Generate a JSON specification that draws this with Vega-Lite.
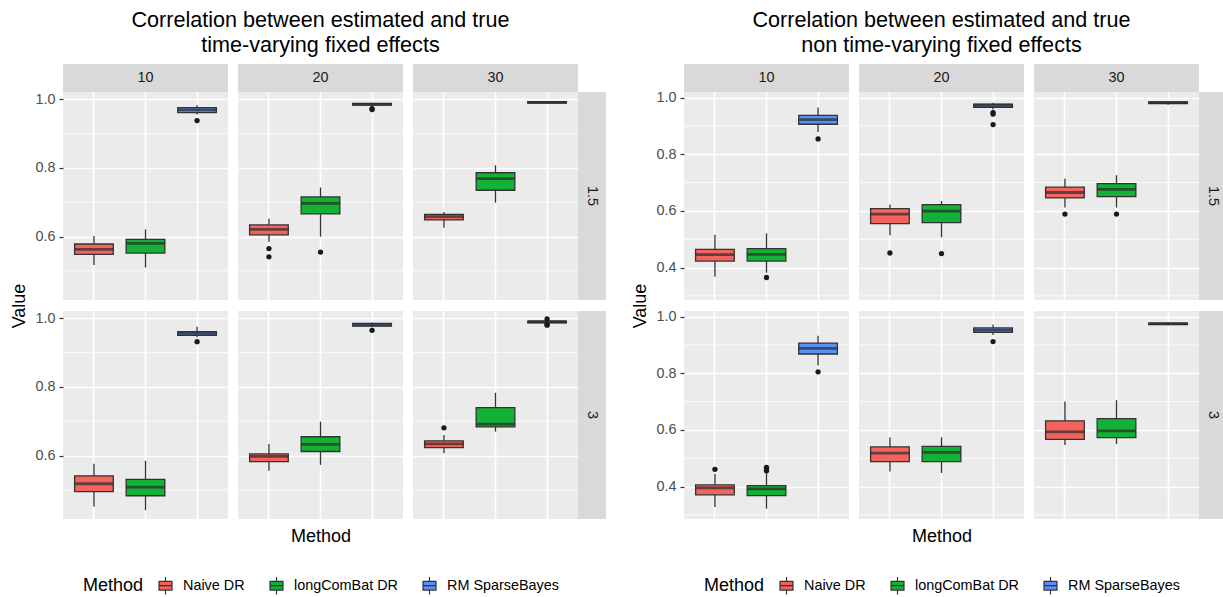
{
"$schema":"https://vega.github.io/schema/vega-lite/v6.json",
"padding":{"left":10,"top":10,"right":0,"bottom":0},
"autosize":{"type":"pad"},
"background":"white",
"columns":13,
"spacing":0,
"bounds":"flush",
"align":"each",
"resolve":{"legend":{"color":"independent"}},
"datasets":{
"minL":[{"g":0.5},{"g":0.7},{"g":0.9}],
"minR":[{"g":0.3},{"g":0.5},{"g":0.7},{"g":0.9}],
"box":[
{"c":"L","n":10,"s":1.5,"m":"Naive DR","lo":0.517,"q1":0.5485,"med":0.563,"q3":0.5785,"hi":0.602},
{"c":"L","n":10,"s":1.5,"m":"longComBat DR","lo":0.51,"q1":0.552,"med":0.58,"q3":0.592,"hi":0.621},
{"c":"L","n":10,"s":1.5,"m":"RM SparseBayes","lo":0.956,"q1":0.961,"med":0.969,"q3":0.976,"hi":0.983},
{"c":"L","n":20,"s":1.5,"m":"Naive DR","lo":0.585,"q1":0.605,"med":0.621,"q3":0.634,"hi":0.652},
{"c":"L","n":20,"s":1.5,"m":"longComBat DR","lo":0.6,"q1":0.666,"med":0.697,"q3":0.7155,"hi":0.743},
{"c":"L","n":20,"s":1.5,"m":"RM SparseBayes","lo":0.98,"q1":0.983,"med":0.985,"q3":0.988,"hi":0.99},
{"c":"L","n":30,"s":1.5,"m":"Naive DR","lo":0.626,"q1":0.6485,"med":0.658,"q3":0.665,"hi":0.672},
{"c":"L","n":30,"s":1.5,"m":"longComBat DR","lo":0.699,"q1":0.735,"med":0.769,"q3":0.786,"hi":0.808},
{"c":"L","n":30,"s":1.5,"m":"RM SparseBayes","lo":0.987,"q1":0.989,"med":0.991,"q3":0.993,"hi":0.995},
{"c":"L","n":10,"s":3,"m":"Naive DR","lo":0.4515,"q1":0.495,"med":0.518,"q3":0.541,"hi":0.576},
{"c":"L","n":10,"s":3,"m":"longComBat DR","lo":0.441,"q1":0.483,"med":0.508,"q3":0.531,"hi":0.585},
{"c":"L","n":10,"s":3,"m":"RM SparseBayes","lo":0.945,"q1":0.9505,"med":0.956,"q3":0.961,"hi":0.9755},
{"c":"L","n":20,"s":3,"m":"Naive DR","lo":0.556,"q1":0.5825,"med":0.598,"q3":0.605,"hi":0.634},
{"c":"L","n":20,"s":3,"m":"longComBat DR","lo":0.573,"q1":0.612,"med":0.633,"q3":0.655,"hi":0.699},
{"c":"L","n":20,"s":3,"m":"RM SparseBayes","lo":0.974,"q1":0.977,"med":0.981,"q3":0.9855,"hi":0.988},
{"c":"L","n":30,"s":3,"m":"Naive DR","lo":0.607,"q1":0.623,"med":0.634,"q3":0.643,"hi":0.66},
{"c":"L","n":30,"s":3,"m":"longComBat DR","lo":0.67,"q1":0.6835,"med":0.692,"q3":0.74,"hi":0.783},
{"c":"L","n":30,"s":3,"m":"RM SparseBayes","lo":0.984,"q1":0.987,"med":0.99,"q3":0.992,"hi":0.995},
{"c":"R","n":10,"s":1.5,"m":"Naive DR","lo":0.368,"q1":0.423,"med":0.446,"q3":0.4645,"hi":0.516},
{"c":"R","n":10,"s":1.5,"m":"longComBat DR","lo":0.382,"q1":0.423,"med":0.447,"q3":0.467,"hi":0.521},
{"c":"R","n":10,"s":1.5,"m":"RM SparseBayes","lo":0.879,"q1":0.906,"med":0.922,"q3":0.9375,"hi":0.965},
{"c":"R","n":20,"s":1.5,"m":"Naive DR","lo":0.514,"q1":0.555,"med":0.589,"q3":0.608,"hi":0.623},
{"c":"R","n":20,"s":1.5,"m":"longComBat DR","lo":0.507,"q1":0.559,"med":0.599,"q3":0.622,"hi":0.635},
{"c":"R","n":20,"s":1.5,"m":"RM SparseBayes","lo":0.958,"q1":0.966,"med":0.973,"q3":0.977,"hi":0.982},
{"c":"R","n":30,"s":1.5,"m":"Naive DR","lo":0.612,"q1":0.646,"med":0.665,"q3":0.684,"hi":0.714},
{"c":"R","n":30,"s":1.5,"m":"longComBat DR","lo":0.612,"q1":0.6505,"med":0.676,"q3":0.6965,"hi":0.726},
{"c":"R","n":30,"s":1.5,"m":"RM SparseBayes","lo":0.975,"q1":0.979,"med":0.982,"q3":0.985,"hi":0.988},
{"c":"R","n":10,"s":3,"m":"Naive DR","lo":0.328,"q1":0.371,"med":0.3955,"q3":0.406,"hi":0.4445},
{"c":"R","n":10,"s":3,"m":"longComBat DR","lo":0.322,"q1":0.368,"med":0.392,"q3":0.4035,"hi":0.45},
{"c":"R","n":10,"s":3,"m":"RM SparseBayes","lo":0.827,"q1":0.868,"med":0.888,"q3":0.9067,"hi":0.932},
{"c":"R","n":20,"s":3,"m":"Naive DR","lo":0.453,"q1":0.488,"med":0.518,"q3":0.54,"hi":0.573},
{"c":"R","n":20,"s":3,"m":"longComBat DR","lo":0.448,"q1":0.488,"med":0.521,"q3":0.542,"hi":0.574},
{"c":"R","n":20,"s":3,"m":"RM SparseBayes","lo":0.935,"q1":0.944,"med":0.952,"q3":0.96,"hi":0.972},
{"c":"R","n":30,"s":3,"m":"Naive DR","lo":0.547,"q1":0.567,"med":0.593,"q3":0.632,"hi":0.7},
{"c":"R","n":30,"s":3,"m":"longComBat DR","lo":0.55,"q1":0.573,"med":0.5965,"q3":0.64,"hi":0.705},
{"c":"R","n":30,"s":3,"m":"RM SparseBayes","lo":0.969,"q1":0.972,"med":0.975,"q3":0.977,"hi":0.98}
],
"out":[
{"c":"L","n":10,"s":1.5,"m":"RM SparseBayes","v":0.938},
{"c":"L","n":20,"s":1.5,"m":"Naive DR","v":0.565},
{"c":"L","n":20,"s":1.5,"m":"Naive DR","v":0.541},
{"c":"L","n":20,"s":1.5,"m":"longComBat DR","v":0.555},
{"c":"L","n":20,"s":1.5,"m":"RM SparseBayes","v":0.973},
{"c":"L","n":20,"s":1.5,"m":"RM SparseBayes","v":0.97},
{"c":"L","n":10,"s":3,"m":"RM SparseBayes","v":0.932},
{"c":"L","n":20,"s":3,"m":"RM SparseBayes","v":0.965},
{"c":"L","n":30,"s":3,"m":"Naive DR","v":0.681},
{"c":"L","n":30,"s":3,"m":"RM SparseBayes","v":0.98},
{"c":"L","n":30,"s":3,"m":"RM SparseBayes","v":0.982},
{"c":"L","n":30,"s":3,"m":"RM SparseBayes","v":0.998},
{"c":"R","n":10,"s":1.5,"m":"longComBat DR","v":0.365},
{"c":"R","n":10,"s":1.5,"m":"RM SparseBayes","v":0.854},
{"c":"R","n":20,"s":1.5,"m":"Naive DR","v":0.4515},
{"c":"R","n":20,"s":1.5,"m":"longComBat DR","v":0.449},
{"c":"R","n":20,"s":1.5,"m":"RM SparseBayes","v":0.947},
{"c":"R","n":20,"s":1.5,"m":"RM SparseBayes","v":0.942},
{"c":"R","n":20,"s":1.5,"m":"RM SparseBayes","v":0.905},
{"c":"R","n":30,"s":1.5,"m":"Naive DR","v":0.589},
{"c":"R","n":30,"s":1.5,"m":"longComBat DR","v":0.589},
{"c":"R","n":10,"s":3,"m":"Naive DR","v":0.461},
{"c":"R","n":10,"s":3,"m":"longComBat DR","v":0.456},
{"c":"R","n":10,"s":3,"m":"longComBat DR","v":0.462},
{"c":"R","n":10,"s":3,"m":"longComBat DR","v":0.468},
{"c":"R","n":10,"s":3,"m":"RM SparseBayes","v":0.805},
{"c":"R","n":20,"s":3,"m":"RM SparseBayes","v":0.912}
]
},
"concat":[
{"width":165,"height":28,"view":{"fill":"#D9D9D9","stroke":null},"data":{"values":[{"t":"10"}]},"mark":{"type":"text","fontSize":14.4,"color":"#1A1A1A"},"encoding":{"text":{"field":"t","type":"nominal"}}},
{"width":10,"height":28,"data":{"values":[]},"mark":"point"},
{"width":165,"height":28,"view":{"fill":"#D9D9D9","stroke":null},"title":{"text":["Correlation between estimated and true","time-varying fixed effects"]},"data":{"values":[{"t":"20"}]},"mark":{"type":"text","fontSize":14.4,"color":"#1A1A1A"},"encoding":{"text":{"field":"t","type":"nominal"}}},
{"width":10,"height":28,"data":{"values":[]},"mark":"point"},
{"width":165,"height":28,"view":{"fill":"#D9D9D9","stroke":null},"data":{"values":[{"t":"30"}]},"mark":{"type":"text","fontSize":14.4,"color":"#1A1A1A"},"encoding":{"text":{"field":"t","type":"nominal"}}},
{"width":28,"height":28,"data":{"values":[]},"mark":"point"},
{"width":78,"height":28,"data":{"values":[]},"mark":"point"},
{"width":165,"height":28,"view":{"fill":"#D9D9D9","stroke":null},"data":{"values":[{"t":"10"}]},"mark":{"type":"text","fontSize":14.4,"color":"#1A1A1A"},"encoding":{"text":{"field":"t","type":"nominal"}}},
{"width":10,"height":28,"data":{"values":[]},"mark":"point"},
{"width":165,"height":28,"view":{"fill":"#D9D9D9","stroke":null},"title":{"text":["Correlation between estimated and true","non time-varying fixed effects"]},"data":{"values":[{"t":"20"}]},"mark":{"type":"text","fontSize":14.4,"color":"#1A1A1A"},"encoding":{"text":{"field":"t","type":"nominal"}}},
{"width":10,"height":28,"data":{"values":[]},"mark":"point"},
{"width":165,"height":28,"view":{"fill":"#D9D9D9","stroke":null},"data":{"values":[{"t":"30"}]},"mark":{"type":"text","fontSize":14.4,"color":"#1A1A1A"},"encoding":{"text":{"field":"t","type":"nominal"}}},
{"width":28,"height":28,"data":{"values":[]},"mark":"point"},

{"width":165,"height":208,"view":{"fill":"#EBEBEB","stroke":null},"data":{"name":"box"},"transform":[{"filter":"datum.c=='L' && datum.n==10 && datum.s==1.5"}],
"layer":[
{"data":{"name":"minL"},"mark":{"type":"rule","color":"#FFFFFF","strokeWidth":0.8},"encoding":{"y":{"field":"g","type":"quantitative","scale":{"domain":[0.4153,1.0213],"nice":false,"zero":false},"axis":{"values":[0.6,0.8,1.0],"format":".1f","title":"Value","titleY":213.5,"titlePadding":6}}}},
{"mark":{"type":"rule","color":"#333333","strokeWidth":1.3},"encoding":{"x":{"field":"m","type":"nominal","scale":{"domain":["Naive DR","longComBat DR","RM SparseBayes"],"paddingInner":0.25,"paddingOuter":0.225},"axis":{"labels":false,"ticks":false,"domain":false,"grid":true,"bandPosition":0.5,"title":null}},"y":{"field":"lo","type":"quantitative","scale":{"domain":[0.4153,1.0213],"nice":false,"zero":false}},"y2":{"field":"hi"}}},
{"mark":{"type":"bar","stroke":"#333333","strokeWidth":1.3},"encoding":{"x":{"field":"m","type":"nominal","scale":{"domain":["Naive DR","longComBat DR","RM SparseBayes"],"paddingInner":0.25,"paddingOuter":0.225},"axis":{"labels":false,"ticks":false,"domain":false,"grid":true,"bandPosition":0.5,"title":null}},"y":{"field":"q1","type":"quantitative","scale":{"domain":[0.4153,1.0213],"nice":false,"zero":false}},"y2":{"field":"q3"},"color":{"field":"m","type":"nominal","scale":{"domain":["Naive DR","longComBat DR","RM SparseBayes"],"range":["#F3645E","#13B135","#5B8FF5"]},"legend":null}}},
{"mark":{"type":"tick","color":"#2B2B2B","thickness":2.8,"size":38.6},"encoding":{"x":{"field":"m","type":"nominal","scale":{"domain":["Naive DR","longComBat DR","RM SparseBayes"],"paddingInner":0.25,"paddingOuter":0.225},"axis":{"labels":false,"ticks":false,"domain":false,"grid":true,"bandPosition":0.5,"title":null}},"y":{"field":"med","type":"quantitative","scale":{"domain":[0.4153,1.0213],"nice":false,"zero":false}}}},
{"data":{"name":"out"},"transform":[{"filter":"datum.c=='L' && datum.n==10 && datum.s==1.5"}],"mark":{"type":"circle","size":28,"color":"#1A1A1A","opacity":1},"encoding":{"x":{"field":"m","type":"nominal","scale":{"domain":["Naive DR","longComBat DR","RM SparseBayes"],"paddingInner":0.25,"paddingOuter":0.225},"axis":{"labels":false,"ticks":false,"domain":false,"grid":true,"bandPosition":0.5,"title":null}},"y":{"field":"v","type":"quantitative","scale":{"domain":[0.4153,1.0213],"nice":false,"zero":false}}}}
]},
{"width":10,"height":208,"data":{"values":[]},"mark":"point"},
{"width":165,"height":208,"view":{"fill":"#EBEBEB","stroke":null},"data":{"name":"box"},"transform":[{"filter":"datum.c=='L' && datum.n==20 && datum.s==1.5"}],
"layer":[
{"data":{"name":"minL"},"mark":{"type":"rule","color":"#FFFFFF","strokeWidth":0.8},"encoding":{"y":{"field":"g","type":"quantitative","scale":{"domain":[0.4153,1.0213],"nice":false,"zero":false},"axis":{"values":[0.6,0.8,1.0],"labels":false,"ticks":false,"title":null}}}},
{"mark":{"type":"rule","color":"#333333","strokeWidth":1.3},"encoding":{"x":{"field":"m","type":"nominal","scale":{"domain":["Naive DR","longComBat DR","RM SparseBayes"],"paddingInner":0.25,"paddingOuter":0.225},"axis":{"labels":false,"ticks":false,"domain":false,"grid":true,"bandPosition":0.5,"title":null}},"y":{"field":"lo","type":"quantitative","scale":{"domain":[0.4153,1.0213],"nice":false,"zero":false}},"y2":{"field":"hi"}}},
{"mark":{"type":"bar","stroke":"#333333","strokeWidth":1.3},"encoding":{"x":{"field":"m","type":"nominal","scale":{"domain":["Naive DR","longComBat DR","RM SparseBayes"],"paddingInner":0.25,"paddingOuter":0.225},"axis":{"labels":false,"ticks":false,"domain":false,"grid":true,"bandPosition":0.5,"title":null}},"y":{"field":"q1","type":"quantitative","scale":{"domain":[0.4153,1.0213],"nice":false,"zero":false}},"y2":{"field":"q3"},"color":{"field":"m","type":"nominal","scale":{"domain":["Naive DR","longComBat DR","RM SparseBayes"],"range":["#F3645E","#13B135","#5B8FF5"]},"legend":null}}},
{"mark":{"type":"tick","color":"#2B2B2B","thickness":2.8,"size":38.6},"encoding":{"x":{"field":"m","type":"nominal","scale":{"domain":["Naive DR","longComBat DR","RM SparseBayes"],"paddingInner":0.25,"paddingOuter":0.225},"axis":{"labels":false,"ticks":false,"domain":false,"grid":true,"bandPosition":0.5,"title":null}},"y":{"field":"med","type":"quantitative","scale":{"domain":[0.4153,1.0213],"nice":false,"zero":false}}}},
{"data":{"name":"out"},"transform":[{"filter":"datum.c=='L' && datum.n==20 && datum.s==1.5"}],"mark":{"type":"circle","size":28,"color":"#1A1A1A","opacity":1},"encoding":{"x":{"field":"m","type":"nominal","scale":{"domain":["Naive DR","longComBat DR","RM SparseBayes"],"paddingInner":0.25,"paddingOuter":0.225},"axis":{"labels":false,"ticks":false,"domain":false,"grid":true,"bandPosition":0.5,"title":null}},"y":{"field":"v","type":"quantitative","scale":{"domain":[0.4153,1.0213],"nice":false,"zero":false}}}}
]},
{"width":10,"height":208,"data":{"values":[]},"mark":"point"},
{"width":165,"height":208,"view":{"fill":"#EBEBEB","stroke":null},"data":{"name":"box"},"transform":[{"filter":"datum.c=='L' && datum.n==30 && datum.s==1.5"}],
"layer":[
{"data":{"name":"minL"},"mark":{"type":"rule","color":"#FFFFFF","strokeWidth":0.8},"encoding":{"y":{"field":"g","type":"quantitative","scale":{"domain":[0.4153,1.0213],"nice":false,"zero":false},"axis":{"values":[0.6,0.8,1.0],"labels":false,"ticks":false,"title":null}}}},
{"mark":{"type":"rule","color":"#333333","strokeWidth":1.3},"encoding":{"x":{"field":"m","type":"nominal","scale":{"domain":["Naive DR","longComBat DR","RM SparseBayes"],"paddingInner":0.25,"paddingOuter":0.225},"axis":{"labels":false,"ticks":false,"domain":false,"grid":true,"bandPosition":0.5,"title":null}},"y":{"field":"lo","type":"quantitative","scale":{"domain":[0.4153,1.0213],"nice":false,"zero":false}},"y2":{"field":"hi"}}},
{"mark":{"type":"bar","stroke":"#333333","strokeWidth":1.3},"encoding":{"x":{"field":"m","type":"nominal","scale":{"domain":["Naive DR","longComBat DR","RM SparseBayes"],"paddingInner":0.25,"paddingOuter":0.225},"axis":{"labels":false,"ticks":false,"domain":false,"grid":true,"bandPosition":0.5,"title":null}},"y":{"field":"q1","type":"quantitative","scale":{"domain":[0.4153,1.0213],"nice":false,"zero":false}},"y2":{"field":"q3"},"color":{"field":"m","type":"nominal","scale":{"domain":["Naive DR","longComBat DR","RM SparseBayes"],"range":["#F3645E","#13B135","#5B8FF5"]},"legend":null}}},
{"mark":{"type":"tick","color":"#2B2B2B","thickness":2.8,"size":38.6},"encoding":{"x":{"field":"m","type":"nominal","scale":{"domain":["Naive DR","longComBat DR","RM SparseBayes"],"paddingInner":0.25,"paddingOuter":0.225},"axis":{"labels":false,"ticks":false,"domain":false,"grid":true,"bandPosition":0.5,"title":null}},"y":{"field":"med","type":"quantitative","scale":{"domain":[0.4153,1.0213],"nice":false,"zero":false}}}},
{"data":{"name":"out"},"transform":[{"filter":"datum.c=='L' && datum.n==30 && datum.s==1.5"}],"mark":{"type":"circle","size":28,"color":"#1A1A1A","opacity":1},"encoding":{"x":{"field":"m","type":"nominal","scale":{"domain":["Naive DR","longComBat DR","RM SparseBayes"],"paddingInner":0.25,"paddingOuter":0.225},"axis":{"labels":false,"ticks":false,"domain":false,"grid":true,"bandPosition":0.5,"title":null}},"y":{"field":"v","type":"quantitative","scale":{"domain":[0.4153,1.0213],"nice":false,"zero":false}}}}
]},
{"width":28,"height":208,"view":{"fill":"#D9D9D9","stroke":null},"data":{"values":[{"t":"1.5"}]},"mark":{"type":"text","angle":90,"fontSize":14.4,"color":"#1A1A1A"},"encoding":{"text":{"field":"t","type":"nominal"}}},
{"width":78,"height":208,"data":{"values":[]},"mark":"point"},
{"width":165,"height":208,"view":{"fill":"#EBEBEB","stroke":null},"data":{"name":"box"},"transform":[{"filter":"datum.c=='R' && datum.n==10 && datum.s==1.5"}],
"layer":[
{"data":{"name":"minR"},"mark":{"type":"rule","color":"#FFFFFF","strokeWidth":0.8},"encoding":{"y":{"field":"g","type":"quantitative","scale":{"domain":[0.2856,1.0198],"nice":false,"zero":false},"axis":{"values":[0.4,0.6,0.8,1.0],"format":".1f","title":"Value","titleY":213.5,"titlePadding":6}}}},
{"mark":{"type":"rule","color":"#333333","strokeWidth":1.3},"encoding":{"x":{"field":"m","type":"nominal","scale":{"domain":["Naive DR","longComBat DR","RM SparseBayes"],"paddingInner":0.25,"paddingOuter":0.225},"axis":{"labels":false,"ticks":false,"domain":false,"grid":true,"bandPosition":0.5,"title":null}},"y":{"field":"lo","type":"quantitative","scale":{"domain":[0.2856,1.0198],"nice":false,"zero":false}},"y2":{"field":"hi"}}},
{"mark":{"type":"bar","stroke":"#333333","strokeWidth":1.3},"encoding":{"x":{"field":"m","type":"nominal","scale":{"domain":["Naive DR","longComBat DR","RM SparseBayes"],"paddingInner":0.25,"paddingOuter":0.225},"axis":{"labels":false,"ticks":false,"domain":false,"grid":true,"bandPosition":0.5,"title":null}},"y":{"field":"q1","type":"quantitative","scale":{"domain":[0.2856,1.0198],"nice":false,"zero":false}},"y2":{"field":"q3"},"color":{"field":"m","type":"nominal","scale":{"domain":["Naive DR","longComBat DR","RM SparseBayes"],"range":["#F3645E","#13B135","#5B8FF5"]},"legend":null}}},
{"mark":{"type":"tick","color":"#2B2B2B","thickness":2.8,"size":38.6},"encoding":{"x":{"field":"m","type":"nominal","scale":{"domain":["Naive DR","longComBat DR","RM SparseBayes"],"paddingInner":0.25,"paddingOuter":0.225},"axis":{"labels":false,"ticks":false,"domain":false,"grid":true,"bandPosition":0.5,"title":null}},"y":{"field":"med","type":"quantitative","scale":{"domain":[0.2856,1.0198],"nice":false,"zero":false}}}},
{"data":{"name":"out"},"transform":[{"filter":"datum.c=='R' && datum.n==10 && datum.s==1.5"}],"mark":{"type":"circle","size":28,"color":"#1A1A1A","opacity":1},"encoding":{"x":{"field":"m","type":"nominal","scale":{"domain":["Naive DR","longComBat DR","RM SparseBayes"],"paddingInner":0.25,"paddingOuter":0.225},"axis":{"labels":false,"ticks":false,"domain":false,"grid":true,"bandPosition":0.5,"title":null}},"y":{"field":"v","type":"quantitative","scale":{"domain":[0.2856,1.0198],"nice":false,"zero":false}}}}
]},
{"width":10,"height":208,"data":{"values":[]},"mark":"point"},
{"width":165,"height":208,"view":{"fill":"#EBEBEB","stroke":null},"data":{"name":"box"},"transform":[{"filter":"datum.c=='R' && datum.n==20 && datum.s==1.5"}],
"layer":[
{"data":{"name":"minR"},"mark":{"type":"rule","color":"#FFFFFF","strokeWidth":0.8},"encoding":{"y":{"field":"g","type":"quantitative","scale":{"domain":[0.2856,1.0198],"nice":false,"zero":false},"axis":{"values":[0.4,0.6,0.8,1.0],"labels":false,"ticks":false,"title":null}}}},
{"mark":{"type":"rule","color":"#333333","strokeWidth":1.3},"encoding":{"x":{"field":"m","type":"nominal","scale":{"domain":["Naive DR","longComBat DR","RM SparseBayes"],"paddingInner":0.25,"paddingOuter":0.225},"axis":{"labels":false,"ticks":false,"domain":false,"grid":true,"bandPosition":0.5,"title":null}},"y":{"field":"lo","type":"quantitative","scale":{"domain":[0.2856,1.0198],"nice":false,"zero":false}},"y2":{"field":"hi"}}},
{"mark":{"type":"bar","stroke":"#333333","strokeWidth":1.3},"encoding":{"x":{"field":"m","type":"nominal","scale":{"domain":["Naive DR","longComBat DR","RM SparseBayes"],"paddingInner":0.25,"paddingOuter":0.225},"axis":{"labels":false,"ticks":false,"domain":false,"grid":true,"bandPosition":0.5,"title":null}},"y":{"field":"q1","type":"quantitative","scale":{"domain":[0.2856,1.0198],"nice":false,"zero":false}},"y2":{"field":"q3"},"color":{"field":"m","type":"nominal","scale":{"domain":["Naive DR","longComBat DR","RM SparseBayes"],"range":["#F3645E","#13B135","#5B8FF5"]},"legend":null}}},
{"mark":{"type":"tick","color":"#2B2B2B","thickness":2.8,"size":38.6},"encoding":{"x":{"field":"m","type":"nominal","scale":{"domain":["Naive DR","longComBat DR","RM SparseBayes"],"paddingInner":0.25,"paddingOuter":0.225},"axis":{"labels":false,"ticks":false,"domain":false,"grid":true,"bandPosition":0.5,"title":null}},"y":{"field":"med","type":"quantitative","scale":{"domain":[0.2856,1.0198],"nice":false,"zero":false}}}},
{"data":{"name":"out"},"transform":[{"filter":"datum.c=='R' && datum.n==20 && datum.s==1.5"}],"mark":{"type":"circle","size":28,"color":"#1A1A1A","opacity":1},"encoding":{"x":{"field":"m","type":"nominal","scale":{"domain":["Naive DR","longComBat DR","RM SparseBayes"],"paddingInner":0.25,"paddingOuter":0.225},"axis":{"labels":false,"ticks":false,"domain":false,"grid":true,"bandPosition":0.5,"title":null}},"y":{"field":"v","type":"quantitative","scale":{"domain":[0.2856,1.0198],"nice":false,"zero":false}}}}
]},
{"width":10,"height":208,"data":{"values":[]},"mark":"point"},
{"width":165,"height":208,"view":{"fill":"#EBEBEB","stroke":null},"data":{"name":"box"},"transform":[{"filter":"datum.c=='R' && datum.n==30 && datum.s==1.5"}],
"layer":[
{"data":{"name":"minR"},"mark":{"type":"rule","color":"#FFFFFF","strokeWidth":0.8},"encoding":{"y":{"field":"g","type":"quantitative","scale":{"domain":[0.2856,1.0198],"nice":false,"zero":false},"axis":{"values":[0.4,0.6,0.8,1.0],"labels":false,"ticks":false,"title":null}}}},
{"mark":{"type":"rule","color":"#333333","strokeWidth":1.3},"encoding":{"x":{"field":"m","type":"nominal","scale":{"domain":["Naive DR","longComBat DR","RM SparseBayes"],"paddingInner":0.25,"paddingOuter":0.225},"axis":{"labels":false,"ticks":false,"domain":false,"grid":true,"bandPosition":0.5,"title":null}},"y":{"field":"lo","type":"quantitative","scale":{"domain":[0.2856,1.0198],"nice":false,"zero":false}},"y2":{"field":"hi"}}},
{"mark":{"type":"bar","stroke":"#333333","strokeWidth":1.3},"encoding":{"x":{"field":"m","type":"nominal","scale":{"domain":["Naive DR","longComBat DR","RM SparseBayes"],"paddingInner":0.25,"paddingOuter":0.225},"axis":{"labels":false,"ticks":false,"domain":false,"grid":true,"bandPosition":0.5,"title":null}},"y":{"field":"q1","type":"quantitative","scale":{"domain":[0.2856,1.0198],"nice":false,"zero":false}},"y2":{"field":"q3"},"color":{"field":"m","type":"nominal","scale":{"domain":["Naive DR","longComBat DR","RM SparseBayes"],"range":["#F3645E","#13B135","#5B8FF5"]},"legend":null}}},
{"mark":{"type":"tick","color":"#2B2B2B","thickness":2.8,"size":38.6},"encoding":{"x":{"field":"m","type":"nominal","scale":{"domain":["Naive DR","longComBat DR","RM SparseBayes"],"paddingInner":0.25,"paddingOuter":0.225},"axis":{"labels":false,"ticks":false,"domain":false,"grid":true,"bandPosition":0.5,"title":null}},"y":{"field":"med","type":"quantitative","scale":{"domain":[0.2856,1.0198],"nice":false,"zero":false}}}},
{"data":{"name":"out"},"transform":[{"filter":"datum.c=='R' && datum.n==30 && datum.s==1.5"}],"mark":{"type":"circle","size":28,"color":"#1A1A1A","opacity":1},"encoding":{"x":{"field":"m","type":"nominal","scale":{"domain":["Naive DR","longComBat DR","RM SparseBayes"],"paddingInner":0.25,"paddingOuter":0.225},"axis":{"labels":false,"ticks":false,"domain":false,"grid":true,"bandPosition":0.5,"title":null}},"y":{"field":"v","type":"quantitative","scale":{"domain":[0.2856,1.0198],"nice":false,"zero":false}}}}
]},
{"width":28,"height":208,"view":{"fill":"#D9D9D9","stroke":null},"data":{"values":[{"t":"1.5"}]},"mark":{"type":"text","angle":90,"fontSize":14.4,"color":"#1A1A1A"},"encoding":{"text":{"field":"t","type":"nominal"}}},

{"width":165,"height":11,"data":{"values":[]},"mark":"point"},
{"width":10,"height":11,"data":{"values":[]},"mark":"point"},
{"width":165,"height":11,"data":{"values":[]},"mark":"point"},
{"width":10,"height":11,"data":{"values":[]},"mark":"point"},
{"width":165,"height":11,"data":{"values":[]},"mark":"point"},
{"width":28,"height":11,"data":{"values":[]},"mark":"point"},
{"width":78,"height":11,"data":{"values":[]},"mark":"point"},
{"width":165,"height":11,"data":{"values":[]},"mark":"point"},
{"width":10,"height":11,"data":{"values":[]},"mark":"point"},
{"width":165,"height":11,"data":{"values":[]},"mark":"point"},
{"width":10,"height":11,"data":{"values":[]},"mark":"point"},
{"width":165,"height":11,"data":{"values":[]},"mark":"point"},
{"width":28,"height":11,"data":{"values":[]},"mark":"point"},

{"width":165,"height":208,"view":{"fill":"#EBEBEB","stroke":null},"data":{"name":"box"},"transform":[{"filter":"datum.c=='L' && datum.n==10 && datum.s==3"}],
"layer":[
{"data":{"name":"minL"},"mark":{"type":"rule","color":"#FFFFFF","strokeWidth":0.8},"encoding":{"y":{"field":"g","type":"quantitative","scale":{"domain":[0.4153,1.0213],"nice":false,"zero":false},"axis":{"values":[0.6,0.8,1.0],"format":".1f","title":null}}}},
{"mark":{"type":"rule","color":"#333333","strokeWidth":1.3},"encoding":{"x":{"field":"m","type":"nominal","scale":{"domain":["Naive DR","longComBat DR","RM SparseBayes"],"paddingInner":0.25,"paddingOuter":0.225},"axis":{"labels":false,"ticks":false,"domain":false,"grid":true,"bandPosition":0.5,"title":null}},"y":{"field":"lo","type":"quantitative","scale":{"domain":[0.4153,1.0213],"nice":false,"zero":false}},"y2":{"field":"hi"}}},
{"mark":{"type":"bar","stroke":"#333333","strokeWidth":1.3},"encoding":{"x":{"field":"m","type":"nominal","scale":{"domain":["Naive DR","longComBat DR","RM SparseBayes"],"paddingInner":0.25,"paddingOuter":0.225},"axis":{"labels":false,"ticks":false,"domain":false,"grid":true,"bandPosition":0.5,"title":null}},"y":{"field":"q1","type":"quantitative","scale":{"domain":[0.4153,1.0213],"nice":false,"zero":false}},"y2":{"field":"q3"},"color":{"field":"m","type":"nominal","scale":{"domain":["Naive DR","longComBat DR","RM SparseBayes"],"range":["#F3645E","#13B135","#5B8FF5"]},"legend":null}}},
{"mark":{"type":"tick","color":"#2B2B2B","thickness":2.8,"size":38.6},"encoding":{"x":{"field":"m","type":"nominal","scale":{"domain":["Naive DR","longComBat DR","RM SparseBayes"],"paddingInner":0.25,"paddingOuter":0.225},"axis":{"labels":false,"ticks":false,"domain":false,"grid":true,"bandPosition":0.5,"title":null}},"y":{"field":"med","type":"quantitative","scale":{"domain":[0.4153,1.0213],"nice":false,"zero":false}}}},
{"data":{"name":"out"},"transform":[{"filter":"datum.c=='L' && datum.n==10 && datum.s==3"}],"mark":{"type":"circle","size":28,"color":"#1A1A1A","opacity":1},"encoding":{"x":{"field":"m","type":"nominal","scale":{"domain":["Naive DR","longComBat DR","RM SparseBayes"],"paddingInner":0.25,"paddingOuter":0.225},"axis":{"labels":false,"ticks":false,"domain":false,"grid":true,"bandPosition":0.5,"title":null}},"y":{"field":"v","type":"quantitative","scale":{"domain":[0.4153,1.0213],"nice":false,"zero":false}}}}
]},
{"width":10,"height":208,"data":{"values":[]},"mark":"point"},
{"width":165,"height":208,"view":{"fill":"#EBEBEB","stroke":null},"data":{"name":"box"},"transform":[{"filter":"datum.c=='L' && datum.n==20 && datum.s==3"}],
"layer":[
{"data":{"name":"minL"},"mark":{"type":"rule","color":"#FFFFFF","strokeWidth":0.8},"encoding":{"y":{"field":"g","type":"quantitative","scale":{"domain":[0.4153,1.0213],"nice":false,"zero":false},"axis":{"values":[0.6,0.8,1.0],"labels":false,"ticks":false,"title":null}}}},
{"mark":{"type":"rule","color":"#333333","strokeWidth":1.3},"encoding":{"x":{"field":"m","type":"nominal","scale":{"domain":["Naive DR","longComBat DR","RM SparseBayes"],"paddingInner":0.25,"paddingOuter":0.225},"axis":{"labels":false,"ticks":false,"domain":false,"grid":true,"bandPosition":0.5,"title":"Method","titlePadding":8}},"y":{"field":"lo","type":"quantitative","scale":{"domain":[0.4153,1.0213],"nice":false,"zero":false}},"y2":{"field":"hi"}}},
{"mark":{"type":"bar","stroke":"#333333","strokeWidth":1.3},"encoding":{"x":{"field":"m","type":"nominal","scale":{"domain":["Naive DR","longComBat DR","RM SparseBayes"],"paddingInner":0.25,"paddingOuter":0.225},"axis":{"labels":false,"ticks":false,"domain":false,"grid":true,"bandPosition":0.5,"title":"Method","titlePadding":8}},"y":{"field":"q1","type":"quantitative","scale":{"domain":[0.4153,1.0213],"nice":false,"zero":false}},"y2":{"field":"q3"},"color":{"field":"m","type":"nominal","scale":{"domain":["Naive DR","longComBat DR","RM SparseBayes"],"range":["#F3645E","#13B135","#5B8FF5"]},"legend":{"title":"Method"}}}},
{"mark":{"type":"tick","color":"#2B2B2B","thickness":2.8,"size":38.6},"encoding":{"x":{"field":"m","type":"nominal","scale":{"domain":["Naive DR","longComBat DR","RM SparseBayes"],"paddingInner":0.25,"paddingOuter":0.225},"axis":{"labels":false,"ticks":false,"domain":false,"grid":true,"bandPosition":0.5,"title":"Method","titlePadding":8}},"y":{"field":"med","type":"quantitative","scale":{"domain":[0.4153,1.0213],"nice":false,"zero":false}}}},
{"data":{"name":"out"},"transform":[{"filter":"datum.c=='L' && datum.n==20 && datum.s==3"}],"mark":{"type":"circle","size":28,"color":"#1A1A1A","opacity":1},"encoding":{"x":{"field":"m","type":"nominal","scale":{"domain":["Naive DR","longComBat DR","RM SparseBayes"],"paddingInner":0.25,"paddingOuter":0.225},"axis":{"labels":false,"ticks":false,"domain":false,"grid":true,"bandPosition":0.5,"title":"Method","titlePadding":8}},"y":{"field":"v","type":"quantitative","scale":{"domain":[0.4153,1.0213],"nice":false,"zero":false}}}}
]},
{"width":10,"height":208,"data":{"values":[]},"mark":"point"},
{"width":165,"height":208,"view":{"fill":"#EBEBEB","stroke":null},"data":{"name":"box"},"transform":[{"filter":"datum.c=='L' && datum.n==30 && datum.s==3"}],
"layer":[
{"data":{"name":"minL"},"mark":{"type":"rule","color":"#FFFFFF","strokeWidth":0.8},"encoding":{"y":{"field":"g","type":"quantitative","scale":{"domain":[0.4153,1.0213],"nice":false,"zero":false},"axis":{"values":[0.6,0.8,1.0],"labels":false,"ticks":false,"title":null}}}},
{"mark":{"type":"rule","color":"#333333","strokeWidth":1.3},"encoding":{"x":{"field":"m","type":"nominal","scale":{"domain":["Naive DR","longComBat DR","RM SparseBayes"],"paddingInner":0.25,"paddingOuter":0.225},"axis":{"labels":false,"ticks":false,"domain":false,"grid":true,"bandPosition":0.5,"title":null}},"y":{"field":"lo","type":"quantitative","scale":{"domain":[0.4153,1.0213],"nice":false,"zero":false}},"y2":{"field":"hi"}}},
{"mark":{"type":"bar","stroke":"#333333","strokeWidth":1.3},"encoding":{"x":{"field":"m","type":"nominal","scale":{"domain":["Naive DR","longComBat DR","RM SparseBayes"],"paddingInner":0.25,"paddingOuter":0.225},"axis":{"labels":false,"ticks":false,"domain":false,"grid":true,"bandPosition":0.5,"title":null}},"y":{"field":"q1","type":"quantitative","scale":{"domain":[0.4153,1.0213],"nice":false,"zero":false}},"y2":{"field":"q3"},"color":{"field":"m","type":"nominal","scale":{"domain":["Naive DR","longComBat DR","RM SparseBayes"],"range":["#F3645E","#13B135","#5B8FF5"]},"legend":null}}},
{"mark":{"type":"tick","color":"#2B2B2B","thickness":2.8,"size":38.6},"encoding":{"x":{"field":"m","type":"nominal","scale":{"domain":["Naive DR","longComBat DR","RM SparseBayes"],"paddingInner":0.25,"paddingOuter":0.225},"axis":{"labels":false,"ticks":false,"domain":false,"grid":true,"bandPosition":0.5,"title":null}},"y":{"field":"med","type":"quantitative","scale":{"domain":[0.4153,1.0213],"nice":false,"zero":false}}}},
{"data":{"name":"out"},"transform":[{"filter":"datum.c=='L' && datum.n==30 && datum.s==3"}],"mark":{"type":"circle","size":28,"color":"#1A1A1A","opacity":1},"encoding":{"x":{"field":"m","type":"nominal","scale":{"domain":["Naive DR","longComBat DR","RM SparseBayes"],"paddingInner":0.25,"paddingOuter":0.225},"axis":{"labels":false,"ticks":false,"domain":false,"grid":true,"bandPosition":0.5,"title":null}},"y":{"field":"v","type":"quantitative","scale":{"domain":[0.4153,1.0213],"nice":false,"zero":false}}}}
]},
{"width":28,"height":208,"view":{"fill":"#D9D9D9","stroke":null},"data":{"values":[{"t":"3"}]},"mark":{"type":"text","angle":90,"fontSize":14.4,"color":"#1A1A1A"},"encoding":{"text":{"field":"t","type":"nominal"}}},
{"width":78,"height":208,"data":{"values":[]},"mark":"point"},
{"width":165,"height":208,"view":{"fill":"#EBEBEB","stroke":null},"data":{"name":"box"},"transform":[{"filter":"datum.c=='R' && datum.n==10 && datum.s==3"}],
"layer":[
{"data":{"name":"minR"},"mark":{"type":"rule","color":"#FFFFFF","strokeWidth":0.8},"encoding":{"y":{"field":"g","type":"quantitative","scale":{"domain":[0.2856,1.0198],"nice":false,"zero":false},"axis":{"values":[0.4,0.6,0.8,1.0],"format":".1f","title":null}}}},
{"mark":{"type":"rule","color":"#333333","strokeWidth":1.3},"encoding":{"x":{"field":"m","type":"nominal","scale":{"domain":["Naive DR","longComBat DR","RM SparseBayes"],"paddingInner":0.25,"paddingOuter":0.225},"axis":{"labels":false,"ticks":false,"domain":false,"grid":true,"bandPosition":0.5,"title":null}},"y":{"field":"lo","type":"quantitative","scale":{"domain":[0.2856,1.0198],"nice":false,"zero":false}},"y2":{"field":"hi"}}},
{"mark":{"type":"bar","stroke":"#333333","strokeWidth":1.3},"encoding":{"x":{"field":"m","type":"nominal","scale":{"domain":["Naive DR","longComBat DR","RM SparseBayes"],"paddingInner":0.25,"paddingOuter":0.225},"axis":{"labels":false,"ticks":false,"domain":false,"grid":true,"bandPosition":0.5,"title":null}},"y":{"field":"q1","type":"quantitative","scale":{"domain":[0.2856,1.0198],"nice":false,"zero":false}},"y2":{"field":"q3"},"color":{"field":"m","type":"nominal","scale":{"domain":["Naive DR","longComBat DR","RM SparseBayes"],"range":["#F3645E","#13B135","#5B8FF5"]},"legend":null}}},
{"mark":{"type":"tick","color":"#2B2B2B","thickness":2.8,"size":38.6},"encoding":{"x":{"field":"m","type":"nominal","scale":{"domain":["Naive DR","longComBat DR","RM SparseBayes"],"paddingInner":0.25,"paddingOuter":0.225},"axis":{"labels":false,"ticks":false,"domain":false,"grid":true,"bandPosition":0.5,"title":null}},"y":{"field":"med","type":"quantitative","scale":{"domain":[0.2856,1.0198],"nice":false,"zero":false}}}},
{"data":{"name":"out"},"transform":[{"filter":"datum.c=='R' && datum.n==10 && datum.s==3"}],"mark":{"type":"circle","size":28,"color":"#1A1A1A","opacity":1},"encoding":{"x":{"field":"m","type":"nominal","scale":{"domain":["Naive DR","longComBat DR","RM SparseBayes"],"paddingInner":0.25,"paddingOuter":0.225},"axis":{"labels":false,"ticks":false,"domain":false,"grid":true,"bandPosition":0.5,"title":null}},"y":{"field":"v","type":"quantitative","scale":{"domain":[0.2856,1.0198],"nice":false,"zero":false}}}}
]},
{"width":10,"height":208,"data":{"values":[]},"mark":"point"},
{"width":165,"height":208,"view":{"fill":"#EBEBEB","stroke":null},"data":{"name":"box"},"transform":[{"filter":"datum.c=='R' && datum.n==20 && datum.s==3"}],
"layer":[
{"data":{"name":"minR"},"mark":{"type":"rule","color":"#FFFFFF","strokeWidth":0.8},"encoding":{"y":{"field":"g","type":"quantitative","scale":{"domain":[0.2856,1.0198],"nice":false,"zero":false},"axis":{"values":[0.4,0.6,0.8,1.0],"labels":false,"ticks":false,"title":null}}}},
{"mark":{"type":"rule","color":"#333333","strokeWidth":1.3},"encoding":{"x":{"field":"m","type":"nominal","scale":{"domain":["Naive DR","longComBat DR","RM SparseBayes"],"paddingInner":0.25,"paddingOuter":0.225},"axis":{"labels":false,"ticks":false,"domain":false,"grid":true,"bandPosition":0.5,"title":"Method","titlePadding":8}},"y":{"field":"lo","type":"quantitative","scale":{"domain":[0.2856,1.0198],"nice":false,"zero":false}},"y2":{"field":"hi"}}},
{"mark":{"type":"bar","stroke":"#333333","strokeWidth":1.3},"encoding":{"x":{"field":"m","type":"nominal","scale":{"domain":["Naive DR","longComBat DR","RM SparseBayes"],"paddingInner":0.25,"paddingOuter":0.225},"axis":{"labels":false,"ticks":false,"domain":false,"grid":true,"bandPosition":0.5,"title":"Method","titlePadding":8}},"y":{"field":"q1","type":"quantitative","scale":{"domain":[0.2856,1.0198],"nice":false,"zero":false}},"y2":{"field":"q3"},"color":{"field":"m","type":"nominal","scale":{"domain":["Naive DR","longComBat DR","RM SparseBayes"],"range":["#F3645E","#13B135","#5B8FF5"]},"legend":{"title":"Method"}}}},
{"mark":{"type":"tick","color":"#2B2B2B","thickness":2.8,"size":38.6},"encoding":{"x":{"field":"m","type":"nominal","scale":{"domain":["Naive DR","longComBat DR","RM SparseBayes"],"paddingInner":0.25,"paddingOuter":0.225},"axis":{"labels":false,"ticks":false,"domain":false,"grid":true,"bandPosition":0.5,"title":"Method","titlePadding":8}},"y":{"field":"med","type":"quantitative","scale":{"domain":[0.2856,1.0198],"nice":false,"zero":false}}}},
{"data":{"name":"out"},"transform":[{"filter":"datum.c=='R' && datum.n==20 && datum.s==3"}],"mark":{"type":"circle","size":28,"color":"#1A1A1A","opacity":1},"encoding":{"x":{"field":"m","type":"nominal","scale":{"domain":["Naive DR","longComBat DR","RM SparseBayes"],"paddingInner":0.25,"paddingOuter":0.225},"axis":{"labels":false,"ticks":false,"domain":false,"grid":true,"bandPosition":0.5,"title":"Method","titlePadding":8}},"y":{"field":"v","type":"quantitative","scale":{"domain":[0.2856,1.0198],"nice":false,"zero":false}}}}
]},
{"width":10,"height":208,"data":{"values":[]},"mark":"point"},
{"width":165,"height":208,"view":{"fill":"#EBEBEB","stroke":null},"data":{"name":"box"},"transform":[{"filter":"datum.c=='R' && datum.n==30 && datum.s==3"}],
"layer":[
{"data":{"name":"minR"},"mark":{"type":"rule","color":"#FFFFFF","strokeWidth":0.8},"encoding":{"y":{"field":"g","type":"quantitative","scale":{"domain":[0.2856,1.0198],"nice":false,"zero":false},"axis":{"values":[0.4,0.6,0.8,1.0],"labels":false,"ticks":false,"title":null}}}},
{"mark":{"type":"rule","color":"#333333","strokeWidth":1.3},"encoding":{"x":{"field":"m","type":"nominal","scale":{"domain":["Naive DR","longComBat DR","RM SparseBayes"],"paddingInner":0.25,"paddingOuter":0.225},"axis":{"labels":false,"ticks":false,"domain":false,"grid":true,"bandPosition":0.5,"title":null}},"y":{"field":"lo","type":"quantitative","scale":{"domain":[0.2856,1.0198],"nice":false,"zero":false}},"y2":{"field":"hi"}}},
{"mark":{"type":"bar","stroke":"#333333","strokeWidth":1.3},"encoding":{"x":{"field":"m","type":"nominal","scale":{"domain":["Naive DR","longComBat DR","RM SparseBayes"],"paddingInner":0.25,"paddingOuter":0.225},"axis":{"labels":false,"ticks":false,"domain":false,"grid":true,"bandPosition":0.5,"title":null}},"y":{"field":"q1","type":"quantitative","scale":{"domain":[0.2856,1.0198],"nice":false,"zero":false}},"y2":{"field":"q3"},"color":{"field":"m","type":"nominal","scale":{"domain":["Naive DR","longComBat DR","RM SparseBayes"],"range":["#F3645E","#13B135","#5B8FF5"]},"legend":null}}},
{"mark":{"type":"tick","color":"#2B2B2B","thickness":2.8,"size":38.6},"encoding":{"x":{"field":"m","type":"nominal","scale":{"domain":["Naive DR","longComBat DR","RM SparseBayes"],"paddingInner":0.25,"paddingOuter":0.225},"axis":{"labels":false,"ticks":false,"domain":false,"grid":true,"bandPosition":0.5,"title":null}},"y":{"field":"med","type":"quantitative","scale":{"domain":[0.2856,1.0198],"nice":false,"zero":false}}}},
{"data":{"name":"out"},"transform":[{"filter":"datum.c=='R' && datum.n==30 && datum.s==3"}],"mark":{"type":"circle","size":28,"color":"#1A1A1A","opacity":1},"encoding":{"x":{"field":"m","type":"nominal","scale":{"domain":["Naive DR","longComBat DR","RM SparseBayes"],"paddingInner":0.25,"paddingOuter":0.225},"axis":{"labels":false,"ticks":false,"domain":false,"grid":true,"bandPosition":0.5,"title":null}},"y":{"field":"v","type":"quantitative","scale":{"domain":[0.2856,1.0198],"nice":false,"zero":false}}}}
]},
{"width":28,"height":208,"view":{"fill":"#D9D9D9","stroke":null},"data":{"values":[{"t":"3"}]},"mark":{"type":"text","angle":90,"fontSize":14.4,"color":"#1A1A1A"},"encoding":{"text":{"field":"t","type":"nominal"}}}
],
"config":{
"font":"Liberation Sans",
"view":{"stroke":null},
"title":{"font":"Liberation Sans","fontSize":21.6,"fontWeight":"normal","color":"#000000","lineHeight":25,"offset":7,"anchor":"middle"},
"axis":{"gridColor":"#FFFFFF","gridWidth":1.6,"domain":false,"labelColor":"#4D4D4D","labelFontSize":14.4,"labelFont":"Liberation Sans","tickColor":"#333333","tickSize":4,"tickWidth":1.2,"labelPadding":4,"titleColor":"#000000","titleFontSize":18,"titleFontWeight":"normal","titleFont":"Liberation Sans","labelOverlap":false},
"legend":{"orient":"bottom","direction":"horizontal","titleOrient":"left","titleFontSize":18,"titleFontWeight":"normal","titleColor":"#000000","titleFont":"Liberation Sans","labelFontSize":14.4,"labelColor":"#000000","labelFont":"Liberation Sans","symbolType":"M-0.75,-0.5H0.75V0.5H-0.75Z M-0.75,0H0.75 M0,-0.5V-1 M0,0.5V1","symbolSize":300,"symbolStrokeColor":"#333333","symbolStrokeWidth":1.2,"symbolOpacity":1,"labelOffset":8,"columnPadding":22,"titlePadding":12,"offset":31,"layout":{"bottom":{"anchor":"middle"}}}
}
}
